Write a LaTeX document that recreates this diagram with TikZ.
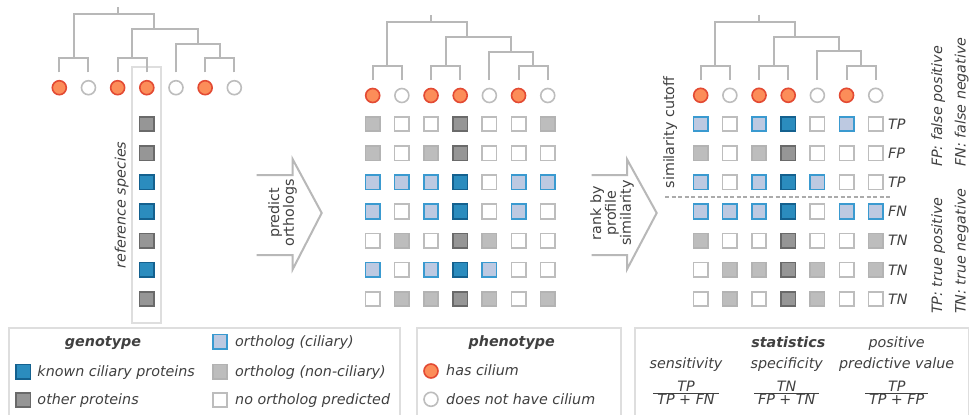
\documentclass[tikz,border=0pt]{standalone}
\usepackage{fontspec}
\setmainfont{DejaVu Sans}[BoldFont={DejaVu Sans Bold},ItalicFont={DejaVu Sans Oblique},BoldItalicFont={DejaVu Sans Bold Oblique}]
\definecolor{txt}{HTML}{404040}
\definecolor{fW}{HTML}{FFFFFF}
\definecolor{bW}{HTML}{BDBDBD}
\definecolor{fL}{HTML}{BDBDBD}
\definecolor{bL}{HTML}{B3B3B3}
\definecolor{fD}{HTML}{969696}
\definecolor{bD}{HTML}{6A6A6A}
\definecolor{fB}{HTML}{2B8CBE}
\definecolor{bB}{HTML}{14618F}
\definecolor{fC}{HTML}{BDC9E1}
\definecolor{bC}{HTML}{3A9AD0}
\definecolor{fO}{HTML}{FC8D59}
\definecolor{bO}{HTML}{E34A33}
\definecolor{treec}{HTML}{B8B8B8}
\definecolor{boxc}{HTML}{DEDEDE}
\definecolor{dashc}{HTML}{ABABAB}
\begin{document}
\begin{tikzpicture}[x=1pt,y=-1pt,
  font=\fontsize{14.3}{15}\selectfont,
  every node/.append style={text=txt},
  sq/.style={shape=rectangle, draw=b#1, fill=f#1, minimum size=14.5pt, inner sep=0pt, line width=1.6pt},
  dot/.style={shape=circle, draw=b#1, fill=f#1, minimum size=14pt, inner sep=0pt, line width=1.6pt},
  tree/.style={draw=treec, line width=2pt},
  arr/.style={draw=treec, line width=2pt, line join=miter},
  legbox/.style={draw=boxc, line width=1.8pt},
  lab/.style={anchor=base west, inner sep=0pt},
  rot/.style={rotate=90, inner sep=0pt}]
\useasboundingbox (0,0) rectangle (970,415);
\clip (0,0) rectangle (970,415);
\fill[white] (0,0) rectangle (970,415);

% reference species box
\node[draw=boxc, line width=1.8pt, minimum width=28.4pt, minimum height=256pt, inner sep=0pt] (refbox) at (146.5,195) {};

% trees and circles
\foreach \p/\xo/\cy in {a/59.3/87.7, b/372.7/95.5, c/700.7/95.3}{
  \begin{scope}[shift={(\xo,\cy)}]
    \coordinate (\p-A) at (14.6,-29.4);
    \coordinate (\p-B) at (72.9,-29.4);
    \coordinate (\p-C) at (160.4,-29.4);
    \coordinate (\p-D) at (138.4,-44);
    \coordinate (\p-E) at (94.7,-58.4);
    \coordinate (\p-R) at (58.7,-73.4);
    \coordinate (\p-top) at (58.7,-80.4);
    \foreach \i in {0,...,6}{\coordinate (\p-t\i) at ({\i*29.17},-15.4);}
    \draw[tree] (\p-top) -- (\p-R);
    \draw[tree] (\p-A) |- (\p-R);
    \draw[tree] (\p-E) |- (\p-R);
    \draw[tree] (\p-B) |- (\p-E);
    \draw[tree] (\p-D) |- (\p-E);
    \draw[tree] (\p-t4) |- (\p-D);
    \draw[tree] (\p-C) |- (\p-D);
    \draw[tree] (\p-t0) |- (\p-A);
    \draw[tree] (\p-t1) |- (\p-A);
    \draw[tree] (\p-t2) |- (\p-B);
    \draw[tree] (\p-t3) |- (\p-B);
    \draw[tree] (\p-t5) |- (\p-C);
    \draw[tree] (\p-t6) |- (\p-C);
    \foreach \t [count=\i from 0] in {O,W,O,O,W,O,W}{
      \node[dot=\t] (\p-leaf\i) at ({\i*29.17},0) {};
    }
  \end{scope}
}

% panel a: reference column
\foreach \t [count=\r] in {D,D,B,B,D,B,D}{
  \node[sq=\t] (a-\r) at (146.8,{124+(\r-1)*29.17}) {};
}
\node[rot, anchor=base, font=\fontsize{14.3}{15}\selectfont\itshape] (refl) at (125.5,205) {reference species};

% panel b grid
\foreach \r/\row in {1/{L,W,W,D,W,W,L},2/{L,W,L,D,W,W,W},3/{C,C,C,B,W,C,C},4/{C,W,C,B,W,C,W},5/{W,L,W,D,L,W,W},6/{C,W,C,B,C,W,W},7/{W,L,L,D,L,W,L}}{
  \foreach \t [count=\c from 0] in \row {
    \node[sq=\t] (b-\r-\c) at ({372.7+\c*29.17},{124+(\r-1)*29.17}) {};
  }
}

% panel c grid
\foreach \r/\row/\lb in {1/{C,W,C,B,W,C,W}/TP,2/{L,W,L,D,W,W,W}/FP,3/{C,W,C,B,C,W,W}/TP,4/{C,C,C,B,W,C,C}/FN,5/{L,W,W,D,W,W,L}/TN,6/{W,L,L,D,L,W,L}/TN,7/{W,L,W,D,L,W,W}/TN}{
  \foreach \t [count=\c from 0] in \row {
    \node[sq=\t] (c-\r-\c) at ({700.7+\c*29.17},{124+(\r-1)*29.17}) {};
  }
  \node[anchor=west, inner sep=0pt, font=\fontsize{14.3}{15}\selectfont\itshape] (clab-\r) at (888,{124+(\r-1)*29.17}) {\lb};
}

% cutoff
\coordinate (cutL) at (665,196.7);
\coordinate (cutR) at (890,196.7);
\draw[dashc, line width=1.6pt, dash pattern=on 4pt off 2.5pt] (cutL) -- (cutR);
\node[rot, anchor=base] (cutlab) at (674,132.5) {similarity cutoff};

% right rotated legends
\node[rot, anchor=base west, font=\fontsize{14.3}{15}\selectfont\itshape] (fpl) at (942,167) {FP: false positive};
\node[rot, anchor=base west, font=\fontsize{14.3}{15}\selectfont\itshape] (fnl) at (965.5,167) {FN: false negative};
\node[rot, anchor=base west, font=\fontsize{14.3}{15}\selectfont\itshape] (tpl) at (942,314) {TP: true positive};
\node[rot, anchor=base west, font=\fontsize{14.3}{15}\selectfont\itshape] (tnl) at (965.5,314) {TN: true negative};

% arrows
\draw[arr] (256.7,175) -- (292.7,175) -- (292.7,159.3) -- (321.7,213) -- (292.7,269.3) -- (292.7,255) -- (256.7,255);
\node[rot, align=center, font=\fontsize{14.3}{14.8}\selectfont] (arr1) at (282.5,213) {predict\\orthologs};
\draw[arr] (591.7,175) -- (627,175) -- (627,159.3) -- (656.7,213) -- (627,269.3) -- (627,255) -- (591.7,255);
\node[rot, align=center, font=\fontsize{14.3}{14.8}\selectfont] (arr2) at (612,213) {rank by\\profile\\similarity};

% legend boxes
\draw[legbox] (9.3,428) -- (9.3,328.3) -- (400,328.3) -- (400,428);
\draw[legbox] (417.3,428) -- (417.3,328.3) -- (620.7,328.3) -- (620.7,428);
\draw[legbox] (635,428) -- (635,328.3) -- (968.5,328.3) -- (968.5,428);

% genotype legend
\node[anchor=base, inner sep=0pt, font=\fontsize{14.3}{15}\selectfont\bfseries\itshape] (genot) at (103,346) {genotype};
\node[sq=B] (g1) at (23.3,371.7) {};
\node[lab, font=\fontsize{14.3}{15}\selectfont\itshape] (g1t) at (37.3,376.2) {known ciliary proteins};
\node[sq=D] (g2) at (23.3,400) {};
\node[lab, font=\fontsize{14.3}{15}\selectfont\itshape] (g2t) at (37.3,404.5) {other proteins};
\node[sq=C] (g3) at (220,341.7) {};
\node[lab, font=\fontsize{14.3}{15}\selectfont\itshape] (g3t) at (235,346.2) {ortholog (ciliary)};
\node[sq=L] (g4) at (220,371.7) {};
\node[lab, font=\fontsize{14.3}{15}\selectfont\itshape] (g4t) at (235,376.2) {ortholog (non-ciliary)};
\node[sq=W] (g5) at (220,400) {};
\node[lab, font=\fontsize{14.3}{15}\selectfont\itshape] (g5t) at (235,404.5) {no ortholog predicted};

% phenotype legend
\node[anchor=base, inner sep=0pt, font=\fontsize{14.3}{15}\selectfont\bfseries\itshape] (phen) at (511.7,346) {phenotype};
\node[dot=O] (p1) at (431,371) {};
\node[lab, font=\fontsize{14.3}{15}\selectfont\itshape] (p1t) at (446,375.5) {has cilium};
\node[dot=W] (p2) at (431,399.3) {};
\node[lab, font=\fontsize{14.3}{15}\selectfont\itshape] (p2t) at (446,404) {does not have cilium};

% statistics legend
\node[anchor=base, inner sep=0pt, font=\fontsize{14.3}{15}\selectfont\bfseries\itshape] (stat) at (788.3,347.5) {statistics};
\node[anchor=base, inner sep=0pt, font=\fontsize{14.3}{15}\selectfont\itshape] (pos) at (896.7,347.5) {positive};
\node[anchor=base, inner sep=0pt, font=\fontsize{14.3}{15}\selectfont\itshape] (sens) at (686,368.5) {sensitivity};
\node[anchor=base, inner sep=0pt, font=\fontsize{14.3}{15}\selectfont\itshape] (spec) at (786.7,368.5) {specificity};
\node[anchor=base, inner sep=0pt, font=\fontsize{14.3}{15}\selectfont\itshape] (ppv) at (896.7,368.5) {predictive value};
\foreach \k/\x/\num/\den in {f1/686/TP/TP + FN, f2/786.7/TN/FP + TN, f3/896.7/TP/TP + FP}{
  \node[anchor=base, inner sep=0pt, font=\fontsize{14.3}{15}\selectfont\itshape] (\k n) at (\x,391.5) {\num};
  \node[anchor=base, inner xsep=3.8pt, inner ysep=0.8pt, font=\fontsize{14.3}{15}\selectfont\itshape] (\k d) at (\x,404.5) {\den};
  \draw[txt, line width=1pt] (\k d.north west) -- (\k d.north east);
}
\end{tikzpicture}
\end{document}
